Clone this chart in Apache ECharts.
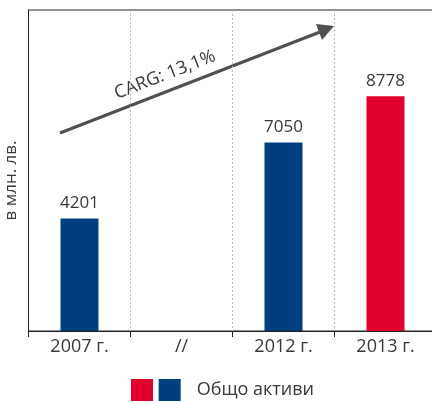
<!DOCTYPE html>
<html><head><meta charset="utf-8">
<script src="https://cdn.jsdelivr.net/npm/echarts@6/dist/echarts.min.js"></script>
<style>html,body{margin:0;padding:0;background:#fff}#c{width:432px;height:402px}</style>
</head><body><div id="c"></div>
<script>
const categories = ['2007 г.', '//', '2012 г.', '2013 г.'];
const blueValues = [4201, null, 7050, null];
const redValues = [null, null, null, 8778];
const seriesName = 'Общо активи';
const yAxisName = 'в млн. лв.';
const growthLabel = 'CARG: 13,1%';

const chart = echarts.init(document.getElementById('c'), null, {renderer: 'canvas'});
const FONT = 'Open Sans';
const TXT = '#383838';
const labelCfg = {show: true, position: 'top', distance: 7, color: TXT, fontSize: 17, fontFamily: FONT};
chart.setOption({
  animation: false,
  grid: {left: 28.5, width: 408, top: 10, bottom: 71, show: true, borderColor: '#222', borderWidth: 1,
         outerBoundsMode: 'none', containLabel: false},
  legend: {
    bottom: -4, left: 126, itemWidth: 22, itemHeight: 22, itemGap: -15,
    icon: 'rect', textStyle: {fontSize: 18, color: TXT, fontFamily: FONT, padding: [0, 0, 0, 11]},
    data: [' ', seriesName]
  },
  xAxis: {
    type: 'category', data: categories,
    axisLine: {lineStyle: {color: '#222'}},
    axisTick: {show: true, length: 6, lineStyle: {color: '#222'}},
    axisLabel: {color: TXT, fontSize: 18, fontFamily: FONT, margin: 7},
    splitLine: {show: true, lineStyle: {color: '#bbb', type: [2, 2]}}
  },
  yAxis: {
    type: 'value', min: 0, max: 12000,
    name: yAxisName, nameLocation: 'middle', nameGap: 9, nameRotate: 90,
    nameTextStyle: {color: TXT, fontSize: 17, fontFamily: FONT, padding: [0, 20, 0, 0]},
    axisLine: {show: true, lineStyle: {color: '#222'}},
    axisTick: {show: false}, axisLabel: {show: false}, splitLine: {show: false}
  },
  series: [
    {name: ' ', type: 'bar', stack: 's', barWidth: 38, data: redValues,
     itemStyle: {color: '#e2002f'}, label: labelCfg},
    {name: seriesName, type: 'bar', stack: 's', barWidth: 38, data: blueValues,
     itemStyle: {color: '#003f7e'}, label: labelCfg}
  ],
  graphic: [
    {type: 'line', shape: {x1: 60, y1: 133, x2: 320, y2: 32}, style: {stroke: '#505050', lineWidth: 3}},
    {type: 'polygon', shape: {points: [[334, 26], [316, 24], [322, 40]]}, style: {fill: '#505050'}},
    {type: 'text', x: 165, y: 75, rotation: 21.2 * Math.PI / 180,
     style: {text: growthLabel, fill: TXT, fontSize: 18, fontFamily: FONT, align: 'center', verticalAlign: 'middle'}}
  ]
});
</script></body></html>
